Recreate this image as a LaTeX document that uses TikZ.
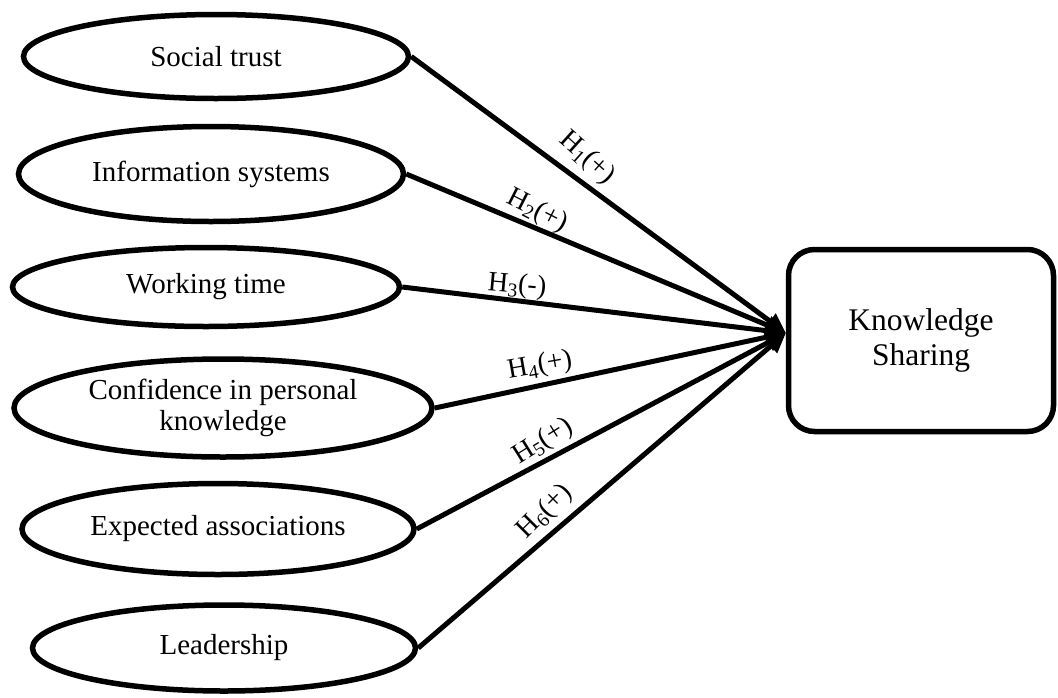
\documentclass[tikz,border=0pt]{standalone}
\usepackage{fontspec}
\setmainfont{Liberation Serif}
\usetikzlibrary{shapes.geometric,arrows.meta}
\begin{document}
\begin{tikzpicture}[x=1pt,y=-1pt,
  ell/.style={ellipse,draw,line width=5.5pt,inner sep=0pt,font=\fontsize{29}{31}\selectfont,align=center},
  box/.style={rectangle,draw,line width=5.5pt,rounded corners=26pt,inner sep=0pt,font=\fontsize{31.5}{35}\selectfont,align=center},
  conn/.style={line width=5pt,-{Triangle[length=20pt,width=18pt]}},
  hlab/.style={font=\fontsize{28}{30}\selectfont,inner sep=1pt}]
\useasboundingbox (0,0) rectangle (1058,697);
\node[ell,minimum width=385pt,minimum height=84pt] (st) at (216,56.5) {Social trust};
\node[ell,minimum width=385pt,minimum height=95pt] (is) at (211,174) {Information systems};
\node[ell,minimum width=387pt,minimum height=79pt] (wt) at (206,287) {Working time};
\node[ell,minimum width=418pt,minimum height=98pt] (cp) at (223,408) {Confidence in personal\\knowledge};
\node[ell,minimum width=392pt,minimum height=91pt] (ea) at (218,529) {Expected associations};
\node[ell,minimum width=383pt,minimum height=86pt] (ld) at (224,648) {Leadership};
\node[box,minimum width=265pt,minimum height=182pt] (ks) at (921,340.5) {Knowledge\\Sharing};
\coordinate (tip) at (786,333);
\draw[conn] (st.east) -- (tip);
\draw[conn] (is.east) -- (tip);
\draw[conn] (wt.east) -- (tip);
\draw[conn] (cp.east) -- (tip);
\draw[conn] (ea.east) -- (tip);
\draw[conn] (ld.east) -- (tip);
\node[hlab,rotate=-42] (h1) at (587,158) {H\textsubscript{1}(+)};
\node[hlab,rotate=-27] (h2) at (537,211) {H\textsubscript{2}(+)};
\node[hlab,rotate=-5] (h3) at (517,286) {H\textsubscript{3}(-)};
\node[hlab,rotate=10] (h4) at (540,366) {H\textsubscript{4}(+)};
\node[hlab,rotate=32] (h5) at (543,442) {H\textsubscript{5}(+)};
\node[hlab,rotate=45] (h6) at (545,512) {H\textsubscript{6}(+)};
\end{tikzpicture}
\end{document}
